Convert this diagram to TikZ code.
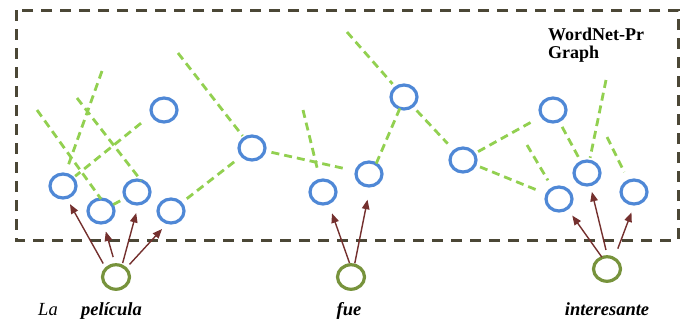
\documentclass[tikz,border=0pt]{standalone}
\usepackage{fontspec}
\setmainfont{Liberation Serif}
\usetikzlibrary{shapes.geometric,arrows.meta}

\definecolor{synblue}{HTML}{4F88D6}
\definecolor{wordgreen}{HTML}{77933C}
\definecolor{relgreen}{HTML}{92D050}
\definecolor{linkred}{HTML}{74302E}
\definecolor{framegray}{HTML}{4B4736}

\tikzset{
  synset/.style={ellipse, draw=synblue, line width=3.2pt, minimum width=26pt,
    minimum height=24pt, inner sep=0pt, outer sep=0pt},
  wordnode/.style={ellipse, draw=wordgreen, line width=3.2pt, minimum width=27pt,
    minimum height=24.5pt, inner sep=0pt, outer sep=0pt},
  rel/.style={draw=relgreen, line width=2.8pt, dash pattern=on 8pt off 5pt},
  link/.style={draw=linkred, line width=1.4pt,
    -{Triangle[length=9.5pt,width=7.5pt]}},
  wordtext/.style={anchor=base, inner sep=0pt,
    font=\fontsize{18.5}{20}\selectfont\itshape},
}

\begin{document}
\begin{tikzpicture}[x=1pt, y=-1pt]
\useasboundingbox (0,0) rectangle (692,325);

% graph frame
\draw[framegray, line width=3pt, dash pattern=on 11pt off 8pt]
  (16,10) rectangle (678,240);

\node[anchor=north west, inner sep=0pt, align=left,
  font=\fontsize{18}{18.3}\selectfont\bfseries] (title) at (548,27.4)
  {WordNet-Pr\\Graph};

% synsets
\node[synset] (A) at (63,186) {};
\node[synset] (B) at (101,211) {};
\node[synset] (C) at (137,192) {};
\node[synset] (D) at (171,211) {};
\node[synset] (E) at (164,110) {};
\node[synset] (F) at (252,148) {};
\node[synset] (G) at (323,192) {};
\node[synset] (H) at (404,97) {};
\node[synset] (I) at (369,174) {};
\node[synset] (J) at (463,160) {};
\node[synset] (K) at (553,110) {};
\node[synset] (L) at (587,173) {};
\node[synset] (M) at (559,199) {};
\node[synset] (N) at (634,192) {};

% open ends of relations leaving the visible part of the graph
\coordinate (o1) at (37,110);
\coordinate (o2) at (102,71);
\coordinate (o3) at (77,98);
\coordinate (o4) at (178,53);
\coordinate (o5) at (303,110);
\coordinate (o6) at (347,32);
\coordinate (o7) at (527,145);
\coordinate (o8) at (606,80);
\coordinate (o9) at (607,137);

% semantic relations
\draw[rel] (o1) -- (B.north);
\draw[rel, shorten >=8pt] (o2) -- (A.80);
\draw[rel] (o3) -- (C.70);
\draw[rel, shorten <=14pt, shorten >=3pt] (E.200) -- (A);
\draw[rel, shorten <=1pt, shorten >=1pt] (B) -- (C);
\draw[rel, shorten <=10pt, shorten >=7pt] (F) -- (D);
\draw[rel, shorten >=3pt] (o4) -- (F);
\draw[rel, shorten <=7pt, shorten >=11pt] (F) -- (I);
\draw[rel, shorten >=13pt] (o5) -- (G);
\draw[rel, shorten >=5pt] (o6) -- (H);
\draw[rel] (H.250) -- (I.55);
\draw[rel, shorten <=6pt, shorten >=10pt] (H) -- (J);
\draw[rel, shorten <=4.5pt, shorten >=13pt] (J) -- (K);
\draw[rel, shorten <=5.5pt, shorten >=12pt] (J) -- (M);
\draw[rel, shorten >=9.5pt] (o7) -- (M);
\draw[rel, shorten <=7pt, shorten >=2pt] (K) -- (L);
\draw[rel, shorten >=3.5pt] (o8) -- (L);
\draw[rel, shorten >=10pt] (o9) -- (N);

% words of the sentence
\node[wordnode] (g1) at (116,277) {};
\node[wordnode] (g2) at (351,277) {};
\node[wordnode] (g3) at (607,269) {};

\node[wordtext] (la) at (48,315) {La};
\node[wordtext, font=\fontsize{18.5}{20}\selectfont\bfseries\itshape]
  (pelicula) at (111.5,315) {película};
\node[wordtext, font=\fontsize{18.5}{20}\selectfont\bfseries\itshape]
  (fue) at (349,315) {fue};
\node[wordtext, font=\fontsize{18.5}{20}\selectfont\bfseries\itshape]
  (interesante) at (607,315) {interesante};

% word-to-synset links
\draw[link, shorten <=6pt, shorten >=7.5pt] (g1.140) -- (A.-74);
\draw[link, shorten <=8pt, shorten >=9pt] (g1.93) -- (B.-79);
\draw[link, shorten <=3pt, shorten >=9.4pt] (g1.62) -- (C.-82);
\draw[link, shorten <=5.6pt, shorten >=8.6pt] (g1.41) -- (D.-105);
\draw[link, shorten <=1.7pt, shorten >=11pt] (g2.94) -- (G.-64);
\draw[link, shorten <=2pt, shorten >=14pt] (g2.74) -- (I.-84);
\draw[link, shorten <=0.5pt, shorten >=8.8pt] (g3.113) -- (M.-49);
\draw[link, shorten <=7pt, shorten >=7.4pt] (g3.87) -- (L.-75);
\draw[link, shorten <=10.6pt, shorten >=9pt] (g3.56) -- (N.-87);
\end{tikzpicture}
\end{document}
